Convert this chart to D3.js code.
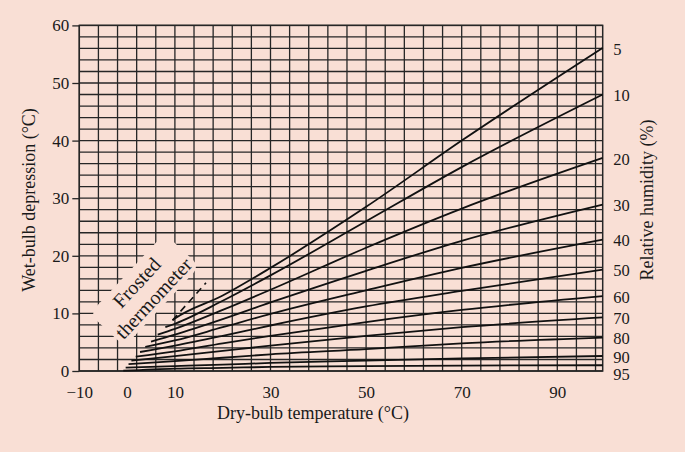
<!DOCTYPE html>
<html>
<head>
<meta charset="utf-8">
<script src="https://cdn.jsdelivr.net/npm/d3@7"></script>
<style>
  html, body { margin: 0; padding: 0; background: #f9dfd5; }
  svg { display: block; }
  text { font-family: "Liberation Serif", "DejaVu Serif", serif; fill: #1a1a1a; }
</style>
</head>
<body>
<svg id="chart" width="685" height="452"></svg>
<script>
// ---------- data ----------
const xTickLabels = [-10, 0, 10, 30, 50, 70, 90];
const yTickLabels = [0, 10, 20, 30, 40, 50, 60];
const rhLevels = [5, 10, 20, 30, 40, 50, 60, 70, 80, 90, 95];

// curve start points (where each curve begins on the frost boundary)
const startDryBulb   = [9.5, 8.0, 6.4, 5.0, 3.8, 2.7, 1.8, 0.9, 0.3, -0.3, -0.8];
const startDepression = [8.8, 7.6, 6.3, 5.1, 4.2, 3.3, 2.5, 1.8, 1.2, 0.6, 0.05];

// dry-bulb temperatures at which the depressions were read
const dryBulb = [10, 20, 30, 50, 70, 99.5];
const rh5  = [9.1, 13.1, 17.9, 28.5, 40.0, 56.1];
const rh10 = [8.2, 12.2, 16.6, 26.0, 35.4, 48.0];
const rh20 = [7.3, 10.6, 14.1, 21.4, 28.2, 37.0];
const rh30 = [6.3, 9.0, 11.9, 17.4, 22.6, 28.9];
const rh40 = [5.3, 7.6, 9.9, 14.0, 17.9, 22.8];
const rh50 = [4.4, 6.1, 7.9, 11.2, 13.9, 17.6];
const rh60 = [3.4, 4.8, 6.1, 8.5, 10.6, 13.0];
const rh70 = [2.6, 3.5, 4.4, 6.1, 7.6, 9.3];
const rh80 = [1.7, 2.3, 2.9, 3.8, 4.8, 5.8];
const rh90 = [0.85, 1.1, 1.4, 1.8, 2.2, 2.6];
const rh95 = [0.42, 0.55, 0.7, 0.85, 0.95, 1.0];
const rhSeries = [rh5, rh10, rh20, rh30, rh40, rh50, rh60, rh70, rh80, rh90, rh95];

// frosted-thermometer dashed extension
const frostDryBulb = [9.5, 16.5];
const frostDepression = [8.8, 15.3];

// ---------- layout ----------
const svg = d3.select("#chart");
const W = 685, H = 452;
const mLeft = 79.3, mRight = 602.7, mTop = 25.4, mBottom = 371;
const xDomain = [-10, 99.5];
const x = d3.scaleLinear().domain(xDomain).range([mLeft, mRight]);
const y = d3.scaleLinear().domain([0, 60]).range([mBottom, mTop]);

svg.append("rect").attr("width", W).attr("height", H).attr("fill", "#f9dfd5");

const gridColor = "#262626";
const grid = svg.append("g");
grid.selectAll("line.v").data(d3.range(-10, 99, 4)).join("line")
  .attr("x1", d => x(d)).attr("x2", d => x(d))
  .attr("y1", y(0)).attr("y2", y(60))
  .attr("stroke", gridColor).attr("stroke-width", 1.3);
grid.selectAll("line.h").data(d3.range(0, 61, 2)).join("line")
  .attr("x1", x(xDomain[0])).attr("x2", x(xDomain[1]))
  .attr("y1", d => y(d)).attr("y2", d => y(d))
  .attr("stroke", gridColor).attr("stroke-width", 1.3);
svg.append("rect")
  .attr("x", x(xDomain[0])).attr("y", y(60))
  .attr("width", x(xDomain[1]) - x(xDomain[0])).attr("height", y(0) - y(60))
  .attr("fill", "none").attr("stroke", gridColor).attr("stroke-width", 1.5);

// frosted label patch
const fc = [145.3, 290.7];
const fg = svg.append("g").attr("transform", `translate(${fc[0]},${fc[1]}) rotate(-47)`);
fg.append("rect").attr("x", -55).attr("y", -25).attr("width", 110).attr("height", 48)
  .attr("rx", 9).attr("fill", "#f9dfd5");
fg.append("text").attr("x", 0).attr("y", -5).attr("text-anchor", "middle")
  .attr("font-size", 20).text("Frosted");
fg.append("text").attr("x", 0).attr("y", 18).attr("text-anchor", "middle")
  .attr("font-size", 20).text("thermometer");

// RH curves
const line = d3.line().x(d => x(d[0])).y(d => y(d[1])).curve(d3.curveMonotoneX);
const curves = rhLevels.map((rh, i) => {
  const pts = [[startDryBulb[i], startDepression[i]]];
  dryBulb.forEach((t, j) => { if (t > startDryBulb[i]) pts.push([t, rhSeries[i][j]]); });
  return { rh, pts };
});
svg.append("g").selectAll("path").data(curves).join("path")
  .attr("d", d => line(d.pts))
  .attr("fill", "none").attr("stroke", "#111").attr("stroke-width", 1.8);

// dashed frost line
svg.append("path")
  .attr("d", d3.line().x(d => x(d[0])).y(d => y(d[1]))(frostDryBulb.map((t, i) => [t, frostDepression[i]])))
  .attr("fill", "none").attr("stroke", "#111").attr("stroke-width", 1.6)
  .attr("stroke-dasharray", "7,5");

// RH labels on the right (nudged apart where they crowd)
let lastY = -Infinity;
const labelYs = curves.map(c => {
  let ly = y(c.pts[c.pts.length - 1][1]) + 1;
  if (ly - lastY < 17.5) ly = lastY + 17.5;
  lastY = ly;
  return ly;
});
svg.append("g").selectAll("text").data(curves).join("text")
  .attr("x", mRight + 10.5).attr("y", (d, i) => labelYs[i])
  .attr("dy", "0.35em").attr("font-size", 16.5).text(d => d.rh);

// x axis
const xAxis = svg.append("g").attr("transform", `translate(0,${mBottom})`)
  .call(d3.axisBottom(x).tickValues(xTickLabels).tickSize(0).tickPadding(15));
xAxis.select(".domain").remove();
xAxis.selectAll("text").attr("font-size", 17).attr("font-family", "Liberation Serif").attr("fill", "#1a1a1a");

// y axis
const yAxis = svg.append("g").attr("transform", `translate(${mLeft},0)`)
  .call(d3.axisLeft(y).tickValues(yTickLabels).tickSize(7).tickPadding(3));
yAxis.select(".domain").remove();
yAxis.selectAll("line").attr("stroke", gridColor).attr("stroke-width", 1.3);
yAxis.selectAll("text").attr("font-size", 17).attr("font-family", "Liberation Serif").attr("fill", "#1a1a1a");

// titles
svg.append("text").attr("x", 313).attr("y", 419).attr("text-anchor", "middle")
  .attr("font-size", 18).text("Dry-bulb temperature (°C)");
svg.append("text").attr("transform", "translate(35,200) rotate(-90)")
  .attr("text-anchor", "middle").attr("font-size", 18).text("Wet-bulb depression (°C)");
svg.append("text").attr("transform", "translate(653,200) rotate(-90)")
  .attr("text-anchor", "middle").attr("font-size", 18).text("Relative humidity (%)");
</script>
</body>
</html>
